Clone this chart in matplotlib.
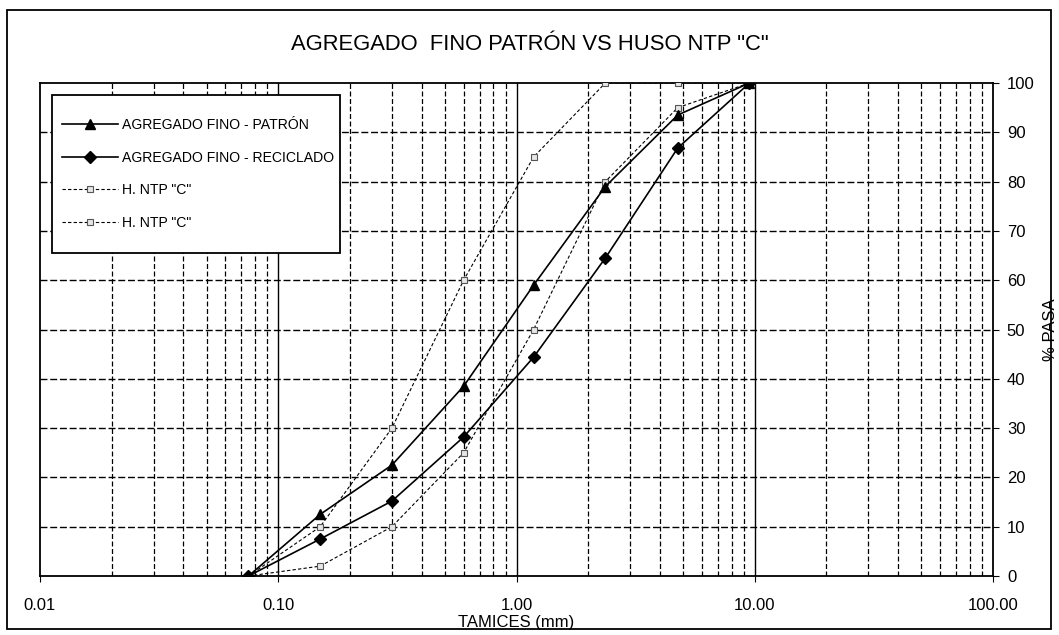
import matplotlib
matplotlib.use("Agg")
import matplotlib.pyplot as plt
from matplotlib.patches import Rectangle
from matplotlib.ticker import FixedLocator, LogLocator, NullFormatter, FuncFormatter

plt.rcParams['font.family'] = ['Liberation Sans', 'DejaVu Sans']

# ---- data ----
tamices = [0.075, 0.15, 0.30, 0.60, 1.18, 2.36, 4.75, 9.50]
patron = [0, 12.5, 22.5, 38.5, 59, 79, 93.5, 100]
reciclado = [0, 7.5, 15.2, 28.2, 44.4, 64.5, 86.8, 100]
ntp_inf = [0, 2, 10, 25, 50, 80, 95, 100]
ntp_sup = [0, 10, 30, 60, 85, 100, 100, 100]

title = 'AGREGADO  FINO PATRÓN VS HUSO NTP "C"'
labels = ['AGREGADO FINO - PATRÓN', 'AGREGADO FINO - RECICLADO', 'H. NTP "C"', 'H. NTP "C"']
xlabel = 'TAMICES (mm)'
ylabel = '% PASA'
yticks = list(range(0, 101, 10))

W, H = 1059, 635
fig = plt.figure(figsize=(W / 100, H / 100), dpi=100)
ax = fig.add_axes([40 / W, 1 - 576 / H, (993 - 40) / W, (576 - 83) / H])

ax.set_xscale('log')
ax.set_xlim(0.01, 100)
ax.set_ylim(0, 100)

# grid
gkw = dict(color='black', linewidth=1.0, linestyle=(0, (5, 2)), zorder=1)
for y in yticks[1:-1]:
    ax.axhline(y, **gkw)
for dec in [0.01, 0.1, 1, 10]:
    for m in range(2, 10):
        ax.axvline(dec * m, color='black', linewidth=0.9, linestyle=(0, (4, 2)), zorder=1)
for v in [0.1, 1, 10]:
    ax.axvline(v, color='black', linewidth=1.0, zorder=1)

l1, = ax.plot(tamices, patron, color='black', lw=1.2, marker='^', ms=7.5, mfc='black', mec='black', zorder=5)
l2, = ax.plot(tamices, reciclado, color='black', lw=1.2, marker='D', ms=6, mfc='black', mec='black', zorder=5)
l3, = ax.plot(tamices, ntp_inf, color='black', lw=0.8, linestyle=(0, (3, 2)), marker='s', ms=5,
              mfc='#e6e6e6', mec='#555555', mew=0.8, zorder=4)
l4, = ax.plot(tamices, ntp_sup, color='black', lw=0.8, linestyle=(0, (3, 2)), marker='s', ms=5,
              mfc='#e6e6e6', mec='#555555', mew=0.8, zorder=4)

# axes formatting
ax.yaxis.tick_right()
ax.yaxis.set_label_position('right')
ax.set_yticks(yticks)
ax.tick_params(axis='y', which='major', direction='out', length=4, labelsize=12, pad=6)
ax.xaxis.set_major_locator(FixedLocator([0.01, 0.1, 1, 10, 100]))
ax.xaxis.set_minor_locator(LogLocator(base=10, subs=range(2, 10)))
ax.xaxis.set_minor_formatter(NullFormatter())
ax.xaxis.set_major_formatter(FuncFormatter(lambda v, p: f'{v:.2f}'))
ax.tick_params(axis='x', which='major', direction='out', length=4, labelsize=12, pad=11.5)
ax.tick_params(axis='x', which='minor', length=0)
for s in ax.spines.values():
    s.set_linewidth(1.3)
    s.set_color('black')

ax.set_xlabel(xlabel, fontsize=12, labelpad=1.5)
ax.set_ylabel(ylabel, fontsize=12, labelpad=6)

fig.text(0.5, 1 - 45 / H, title, ha='center', va='center', fontsize=15.8)

# legend frame drawn as a plain rectangle, entries from the legend
frame = Rectangle((52 / W, 1 - 253 / H), (340 - 52) / W, (253 - 95) / H,
                  transform=fig.transFigure, facecolor='white', edgecolor='black',
                  lw=1.3, zorder=9, clip_on=False)
ax.add_artist(frame)
leg = ax.legend([l1, l2, l3, l4], labels, loc='upper left',
                bbox_to_anchor=(62 / W, 1 - 118 / H), bbox_transform=fig.transFigure,
                borderaxespad=0, borderpad=0, fontsize=10.1, frameon=False,
                handlelength=4.0, handletextpad=0.3, labelspacing=1.33)
leg.set_zorder(10)

# outer border
fig.patches.append(Rectangle((7 / W, 1 - 629 / H), (1051 - 7) / W, (629 - 10) / H,
                             transform=fig.transFigure, fill=False, edgecolor='black', lw=1.3))

fig.savefig('out.png', dpi=100)
